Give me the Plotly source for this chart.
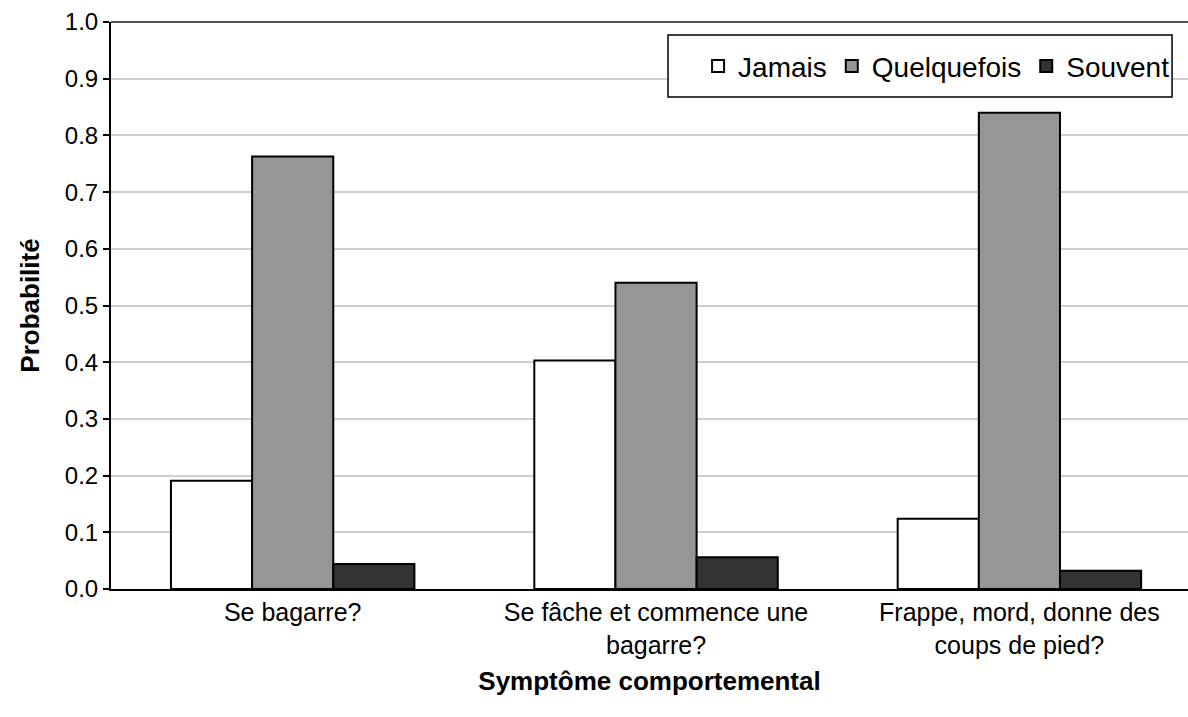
import plotly.graph_objects as go

# Catégories de symptômes et probabilités par fréquence
categories = [
    "Se bagarre?",
    "Se fâche et commence une<br>bagarre?",
    "Frappe, mord, donne des<br>coups de pied?",
]
series_names = ["Jamais", "Quelquefois", "Souvent"]
jamais = [0.191, 0.403, 0.124]
quelquefois = [0.763, 0.540, 0.840]
souvent = [0.044, 0.056, 0.032]
y_ticks = [0.0, 0.1, 0.2, 0.3, 0.4, 0.5, 0.6, 0.7, 0.8, 0.9, 1.0]

colors = ["#ffffff", "#969696", "#333333"]
values = [jamais, quelquefois, souvent]

FONT = "Liberation Sans, Arial, sans-serif"

fig = go.Figure()
for name, vals, col in zip(series_names, values, colors):
    fig.add_trace(go.Bar(
        name=name,
        x=list(range(len(categories))),
        y=vals,
        marker=dict(color=col, line=dict(color="#000000", width=2)),
    ))

fig.update_layout(
    width=1188,
    height=717,
    margin=dict(l=111, r=0, t=22, b=128),
    paper_bgcolor="white",
    plot_bgcolor="white",
    barmode="group",
    bargap=0.33,
    bargroupgap=0,
    font=dict(family=FONT, size=24, color="#000000"),
    legend=dict(
        orientation="h",
        x=0.988, xanchor="right",
        y=0.922, yanchor="middle",
        borderwidth=0,
        bgcolor="rgba(0,0,0,0)",
        font=dict(family=FONT, size=28, color="#000000"),
        itemsizing="constant",
        itemwidth=30,
    ),
    showlegend=True,
)

fig.update_xaxes(
    range=[-0.5, 2.464],
    tickmode="array",
    tickvals=list(range(len(categories))),
    ticktext=categories,
    tickfont=dict(family=FONT, size=25, color="#000000"),
    showline=True, linecolor="#000000", linewidth=2,
    ticks="",
    showgrid=False,
    title=dict(text="<b>Symptôme comportemental</b>",
               font=dict(family=FONT, size=26, color="#000000"),
               standoff=14),
)

fig.update_yaxes(
    range=[0, 1.0],
    tickmode="array",
    tickvals=y_ticks,
    ticktext=[f"{v:.1f}" for v in y_ticks],
    tickfont=dict(family=FONT, size=24, color="#000000"),
    ticks="outside", ticklen=6, tickcolor="#000000", tickwidth=2,
    showline=True, linecolor="#000000", linewidth=2,
    showgrid=True, gridcolor="#cfcfcf", gridwidth=1.5,
    zeroline=False,
    title=dict(text="<b>Probabilité</b>",
               font=dict(family=FONT, size=26, color="#000000"),
               standoff=18),
)

# Bordure supérieure de la zone de tracé
fig.add_shape(type="line", xref="paper", yref="paper",
              x0=0, x1=1, y0=1, y1=1,
              line=dict(color="#555555", width=2))

# Cadre de la légende
fig.add_shape(type="rect", xref="paper", yref="paper",
              x0=0.5172, x1=0.9852, y0=0.8677, y1=0.977,
              line=dict(color="#000000", width=1.5),
              fillcolor="white", layer="above")

fig.write_html("out.html")
